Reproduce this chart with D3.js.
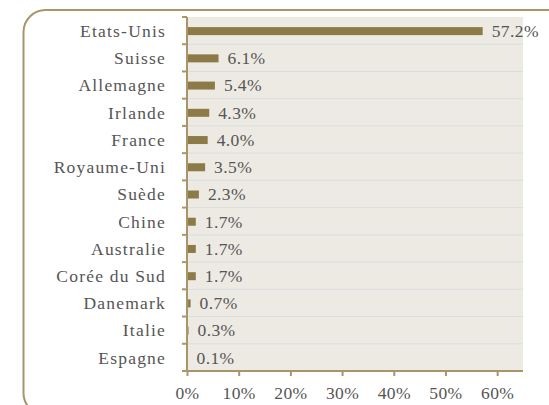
<!DOCTYPE html>
<html>
<head>
<meta charset="utf-8">
<script src="https://cdn.jsdelivr.net/npm/d3@7"></script>
<style>
  body { margin: 0; background: #fff; }
  svg text { font-family: "Liberation Serif", serif; fill: #555; letter-spacing: 0.4px; }
  svg text.cat { letter-spacing: 1.2px; }
</style>
</head>
<body>
<div id="chart"></div>
<script>
const countries = ["Etats-Unis", "Suisse", "Allemagne", "Irlande", "France", "Royaume-Uni",
  "Suède", "Chine", "Australie", "Corée du Sud", "Danemark", "Italie", "Espagne"];
const shares = [57.2, 6.1, 5.4, 4.3, 4.0, 3.5, 2.3, 1.7, 1.7, 1.7, 0.7, 0.3, 0.1];
const xTicks = [0, 10, 20, 30, 40, 50, 60];

const W = 549, H = 405;
const margin = { top: 17, right: 26, bottom: 34, left: 187 };
const fontSize = 17.5;

const svg = d3.select("#chart").append("svg")
  .attr("width", W)
  .attr("height", H);

// rounded frame, only top and left sides visible
const r = 22, fx = 23.5, fy = 10;
svg.append("path")
  .attr("d", `M${fx + r},415 A${r},${r} 0 0 1 ${fx},393 ` +
    `L${fx},${fy + r} A${r},${r} 0 0 1 ${fx + r},${fy} L${W + 10},${fy}`)
  .attr("fill", "none")
  .attr("stroke", "#a8956a")
  .attr("stroke-width", 2);

const x = d3.scaleLinear()
  .domain([0, 65])
  .range([margin.left, W - margin.right]);

const y = d3.scaleBand()
  .domain(countries)
  .range([margin.top, H - margin.bottom]);

// plot background
svg.append("rect")
  .attr("x", margin.left)
  .attr("y", margin.top)
  .attr("width", x(65) - margin.left)
  .attr("height", y.range()[1] - margin.top)
  .attr("fill", "#edeae3");

// horizontal gridlines at band boundaries
svg.append("g")
  .selectAll("line")
  .data(countries.slice(1))
  .join("line")
  .attr("x1", margin.left)
  .attr("x2", x(65))
  .attr("y1", d => y(d))
  .attr("y2", d => y(d))
  .attr("stroke", "#dadde0")
  .attr("stroke-width", 1);

// bars
const barH = 8;
svg.append("g")
  .selectAll("rect")
  .data(countries)
  .join("rect")
  .attr("x", x(0))
  .attr("y", d => y(d) + y.bandwidth() / 2 - barH / 2 + 0.5)
  .attr("width", (d, i) => x(shares[i]) - x(0))
  .attr("height", barH)
  .attr("fill", "#8c7a48");

// value labels
svg.append("g")
  .selectAll("text")
  .data(countries)
  .join("text")
  .attr("x", (d, i) => x(shares[i]) + 9)
  .attr("y", d => y(d) + y.bandwidth() / 2)
  .attr("dy", "0.36em")
  .attr("font-size", fontSize)
  .text((d, i) => shares[i].toFixed(1) + "%");

// y axis
const yAxis = svg.append("g");
yAxis.append("line")
  .attr("x1", margin.left).attr("x2", margin.left)
  .attr("y1", margin.top).attr("y2", y.range()[1])
  .attr("stroke", "#a8956a").attr("stroke-width", 2);
yAxis.selectAll("line.tick")
  .data(countries)
  .join("line")
  .attr("class", "tick")
  .attr("x1", margin.left - 5).attr("x2", margin.left)
  .attr("y1", d => y(d)).attr("y2", d => y(d))
  .attr("stroke", "#a8956a").attr("stroke-width", 2);
yAxis.selectAll("text")
  .data(countries)
  .join("text")
  .attr("class", "cat")
  .attr("x", 166)
  .attr("y", d => y(d) + y.bandwidth() / 2)
  .attr("dy", "0.36em")
  .attr("text-anchor", "end")
  .attr("font-size", fontSize)
  .text(d => d);

// x axis
const xAxis = svg.append("g")
  .attr("transform", `translate(0,${y.range()[1]})`)
  .call(d3.axisBottom(x).tickValues(xTicks).tickSize(5).tickFormat(d => d + "%"));
xAxis.select(".domain")
  .attr("d", `M${margin.left - 5},0H${x(65)}`)
  .attr("stroke", "#a8956a").attr("stroke-width", 2);
xAxis.selectAll(".tick line").attr("stroke", "#a8956a").attr("stroke-width", 2);
xAxis.selectAll(".tick text")
  .attr("font-size", fontSize)
  .attr("font-family", "Liberation Serif, serif")
  .attr("fill", "#555")
  .attr("y", 28)
  .attr("dy", 0);
</script>
</body>
</html>
